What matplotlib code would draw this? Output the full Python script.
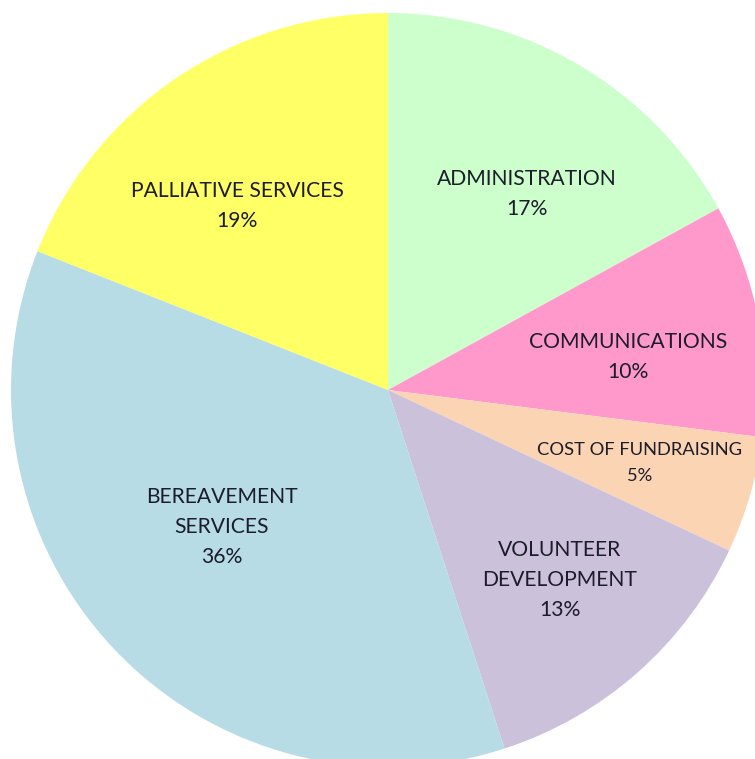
import matplotlib
matplotlib.use("Agg")
import matplotlib.pyplot as plt

categories = ["ADMINISTRATION", "COMMUNICATIONS", "COST OF FUNDRAISING",
              "VOLUNTEER\nDEVELOPMENT", "BEREAVEMENT\nSERVICES", "PALLIATIVE SERVICES"]
values = [17, 10, 5, 13, 36, 19]
colors = ["#CCFFCC", "#FF99CC", "#FBD5B3", "#CCC1DB", "#B7DCE6", "#FFFF66"]

# label anchor points (pixel coords, origin bottom-left), font sizes, line spacing
label_pos = [(527, 565), (628, 402), (640, 296), (560, 179), (222, 232), (237, 553)]
label_size = [15.2, 15.2, 13.2, 15.2, 15.2, 15.2]
label_ls = [1.62, 1.62, 1.75, 1.6, 1.6, 1.62]

W, H = 755, 759
fig = plt.figure(figsize=(W / 100, H / 100), dpi=100)
ax = fig.add_axes([0, 0, 1, 1])
ax.pie(values, center=(388, 369), radius=377, startangle=90, counterclock=False,
       colors=colors, wedgeprops=dict(linewidth=0), frame=True)
ax.set_xlim(0, W)
ax.set_ylim(0, H)
ax.set_aspect("equal")
ax.axis("off")

for cat, v, (x, y), fs, ls in zip(categories, values, label_pos, label_size, label_ls):
    ax.text(x, y, f"{cat}\n{v}%", ha="center", va="center", fontsize=fs,
            family="Lato", color="#1c1c2a", linespacing=ls)

fig.savefig("out.png", dpi=100)
